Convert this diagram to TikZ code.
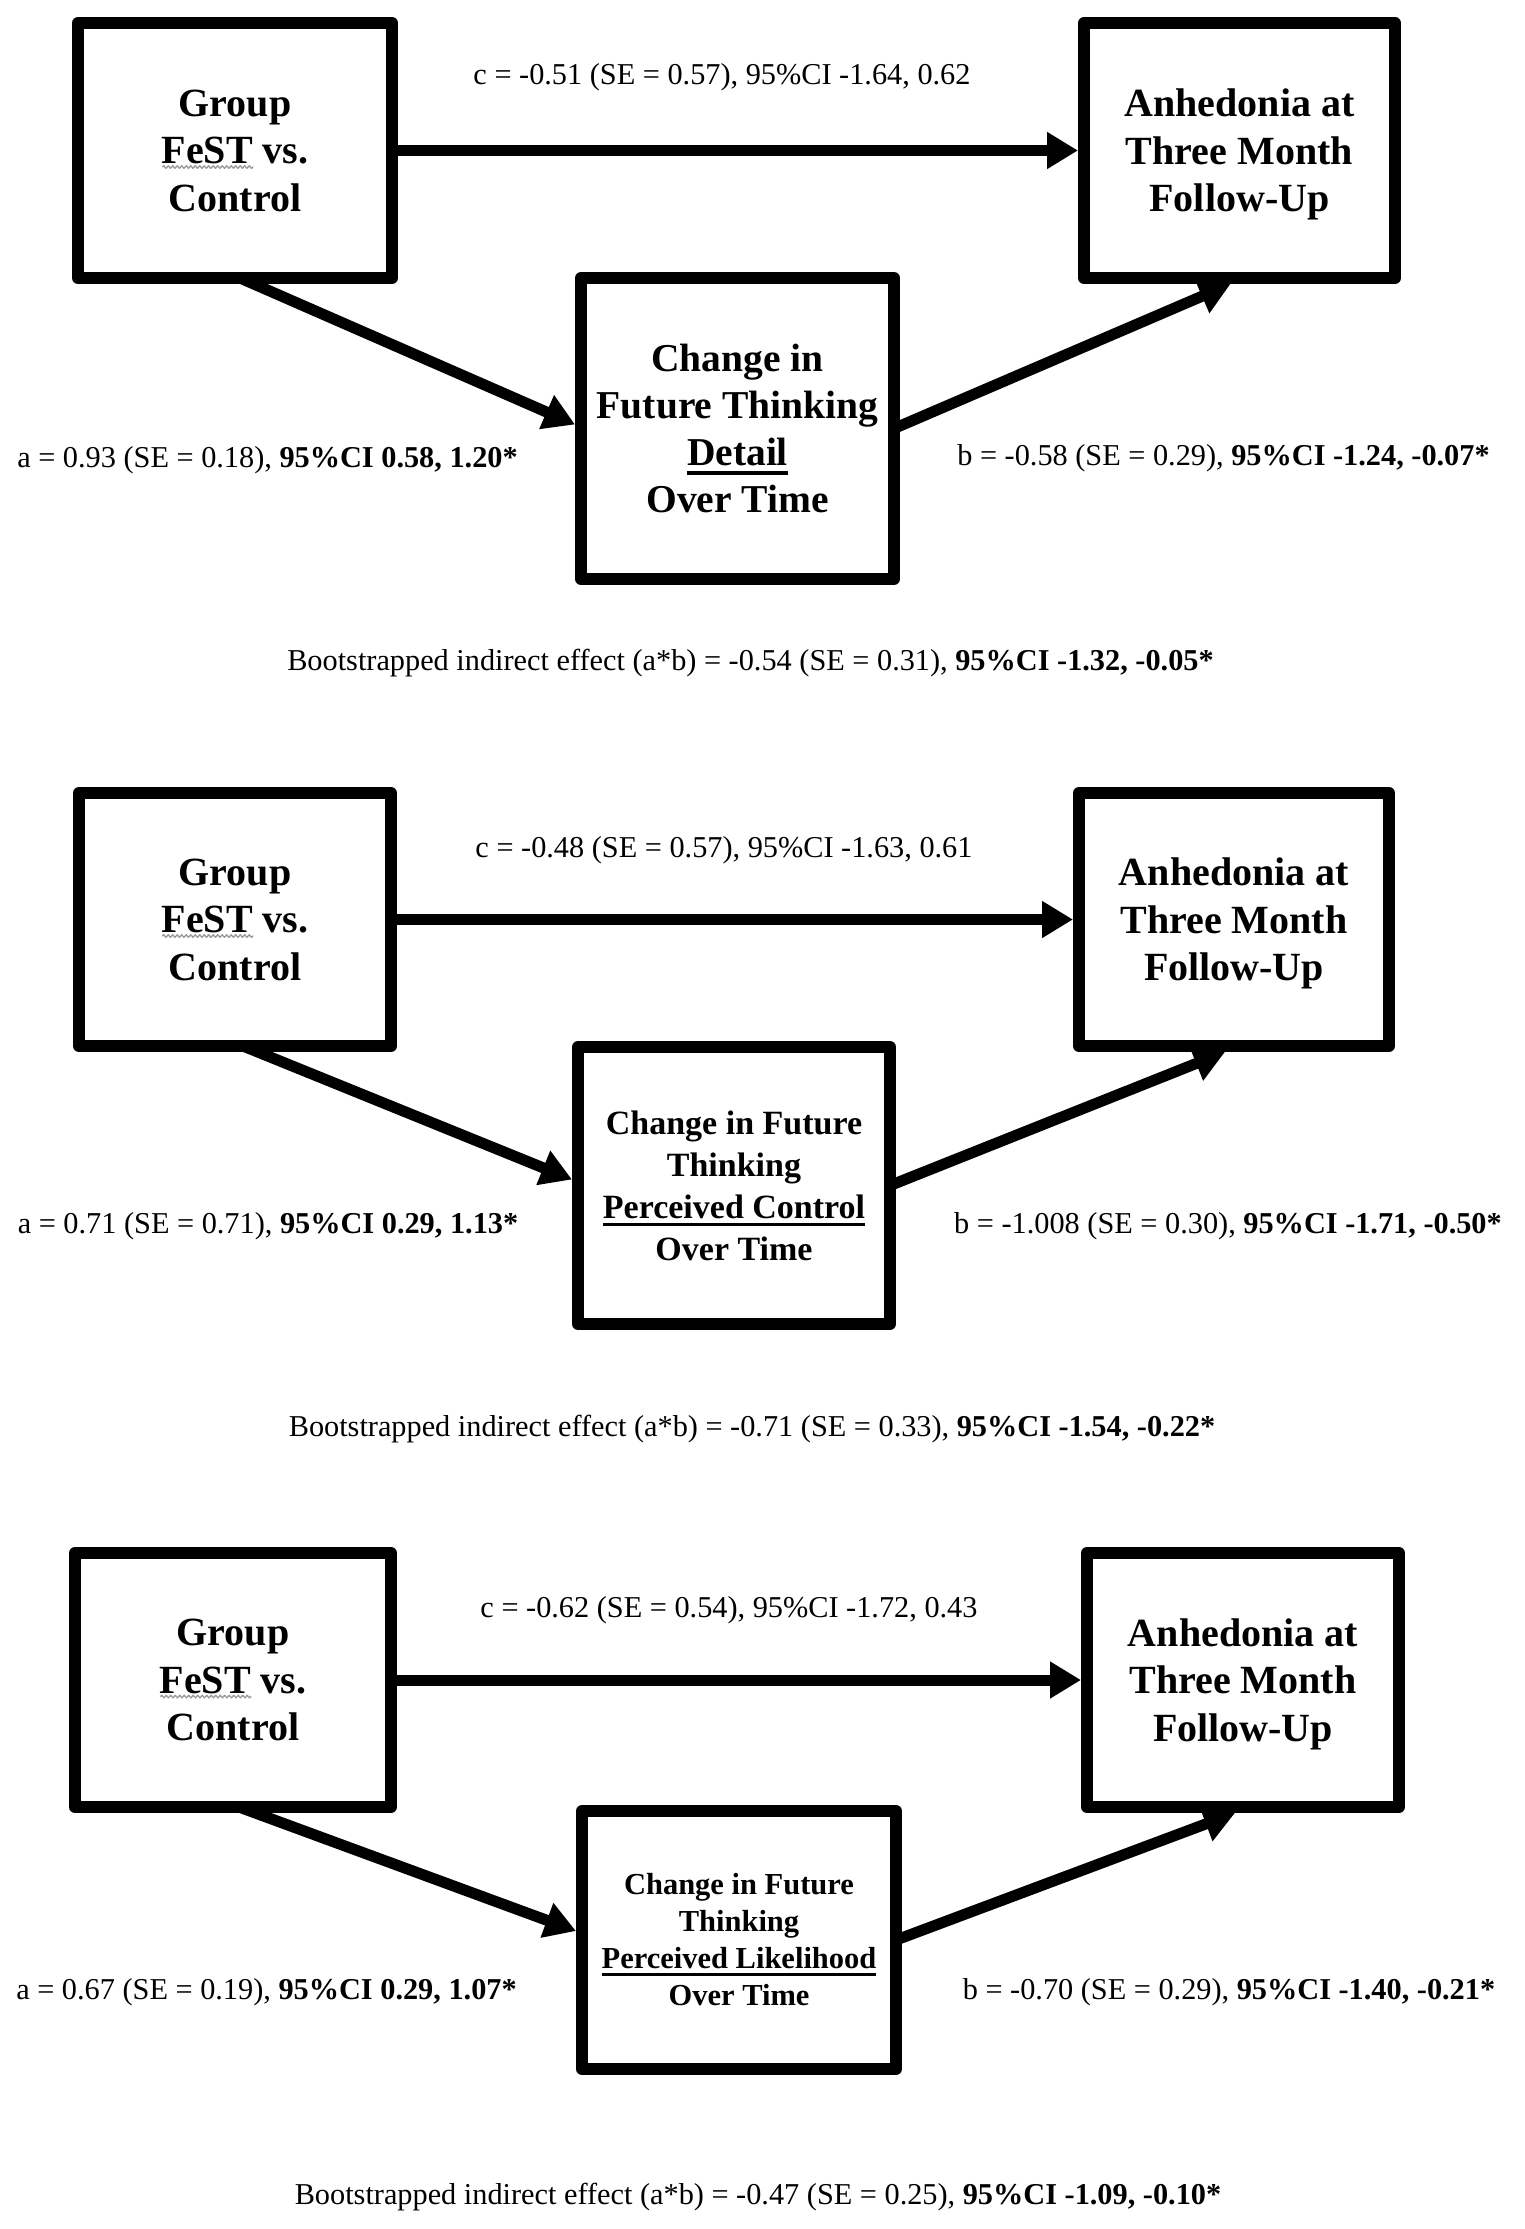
\documentclass[tikz,border=0pt]{standalone}
\usepackage{fontspec}
\setmainfont{Liberation Serif}
\usetikzlibrary{arrows.meta,decorations.pathmorphing}
\newlength{\mywvlen}
\newlength{\myullen}
\newcommand{\wv}[1]{\settowidth{\mywvlen}{#1}\rlap{\tikz[baseline=0pt]\draw[black!40, line width=1.3pt, decorate, decoration={snake, amplitude=1.3pt, segment length=4.5pt}] (0pt,-3.5pt) -- (\mywvlen,-3.5pt);}#1}
\newcommand{\myul}[1]{\settowidth{\myullen}{#1}\rlap{\rule[-0.23em]{\myullen}{0.085em}}#1}
\begin{document}
\begin{tikzpicture}[x=1pt,y=-1pt,
  bx/.style={draw, line width=12pt, line join=round, align=center, inner sep=0pt},
  fbig/.style={font=\fontsize{40}{47.5}\selectfont\bfseries},
  fmid/.style={font=\fontsize{34}{42}\selectfont\bfseries},
  fsml/.style={font=\fontsize{30.5}{37}\selectfont\bfseries},
  arr/.style={line width=11pt, -{Triangle[length=31pt,width=35pt]}},
  lbl/.style={inner sep=0pt, anchor=base, font=\fontsize{30.3}{36}\selectfont}]

\fill[white] (0,0) rectangle (1524,2229);

% ---------- Panel 1 ----------
\node[bx, fbig, minimum width=314pt, minimum height=255pt] (g1) at (235,150.5) {Group\\\wv{FeST} vs.\\Control};
\node[bx, fbig, minimum width=311pt, minimum height=255pt] (a1) at (1239.5,150.5) {Anhedonia at\\Three Month\\Follow-U\smash{p}};
\node[bx, fbig, font=\fontsize{39.5}{47}\selectfont\bfseries, minimum width=313pt, minimum height=301pt] (m1) at (737.5,428.5) {Change in\\Future Thinking\\\myul{Detail}\\Over Time};
\draw[arr] (g1) -- (a1);
\draw[arr] ([xshift=5pt,yshift=6pt]g1.south) -- ([yshift=4pt]m1.west);
\draw[arr] ([xshift=-6pt]m1.east) -- ([xshift=-9pt]a1.south);
\node[lbl] (c1) at (722,85) {c = -0.51 (SE = 0.57), 95\%CI -1.64, 0.62};
\node[lbl] (la1) at (267.5,467) {a = 0.93 (SE = 0.18), \textbf{95\%CI 0.58, 1.20*}};
\node[lbl] (lb1) at (1223.5,465) {b = -0.58 (SE = 0.29), \textbf{95\%CI -1.24, -0.07*}};
\node[lbl] (bt1) at (750.5,670) {Bootstrapped indirect effect (a*b) = -0.54 (SE = 0.31), \textbf{95\%CI -1.32, -0.05*}};

% ---------- Panel 2 ----------
\node[bx, fbig, minimum width=312pt, minimum height=253pt] (g2) at (235,919.5) {Group\\\wv{FeST} vs.\\Control};
\node[bx, fbig, minimum width=310pt, minimum height=253pt] (a2) at (1234,919.5) {Anhedonia at\\Three Month\\Follow-U\smash{p}};
\node[bx, fmid, minimum width=312pt, minimum height=277pt] (m2) at (734,1185.5) {Change in Future\\Thinking\\\myul{Perceived Control}\\Over Time};
\draw[arr] (g2) -- (a2);
\draw[arr] ([xshift=8pt,yshift=6pt]g2.south) -- ([yshift=6pt]m2.west);
\draw[arr] ([xshift=-6pt]m2.east) -- ([xshift=-9pt]a2.south);
\node[lbl] (c2) at (724,857) {c = -0.48 (SE = 0.57), 95\%CI -1.63, 0.61};
\node[lbl] (la2) at (268,1233) {a = 0.71 (SE = 0.71), \textbf{95\%CI 0.29, 1.13*}};
\node[lbl] (lb2) at (1228,1233) {b = -1.008 (SE = 0.30), \textbf{95\%CI -1.71, -0.50*}};
\node[lbl] (bt2) at (752,1436) {Bootstrapped indirect effect (a*b) = -0.71 (SE = 0.33), \textbf{95\%CI -1.54, -0.22*}};

% ---------- Panel 3 ----------
\node[bx, fbig, minimum width=316pt, minimum height=254pt] (g3) at (233,1680) {Group\\\wv{FeST} vs.\\Control};
\node[bx, fbig, minimum width=312pt, minimum height=254pt] (a3) at (1243,1680) {Anhedonia at\\Three Month\\Follow-U\smash{p}};
\node[bx, fsml, minimum width=314pt, minimum height=258pt] (m3) at (739,1940) {Change in Future\\Thinking\\\myul{Perceived Likelihood}\\Over Time};
\draw[arr] (g3) -- (a3);
\draw[arr] ([xshift=6pt,yshift=6pt]g3.south) -- ([yshift=9pt]m3.west);
\draw[arr] ([xshift=-6pt]m3.east) -- ([xshift=-8pt]a3.south);
\node[lbl] (c3) at (729,1617) {c = -0.62 (SE = 0.54), 95\%CI -1.72, 0.43};
\node[lbl] (la3) at (266.5,1999) {a = 0.67 (SE = 0.19), \textbf{95\%CI 0.29, 1.07*}};
\node[lbl] (lb3) at (1229,1999) {b = -0.70 (SE = 0.29), \textbf{95\%CI -1.40, -0.21*}};
\node[lbl] (bt3) at (758,2204) {Bootstrapped indirect effect (a*b) = -0.47 (SE = 0.25), \textbf{95\%CI -1.09, -0.10*}};
\end{tikzpicture}
\end{document}
